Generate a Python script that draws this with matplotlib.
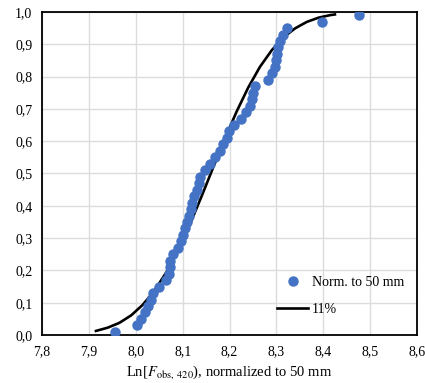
import matplotlib
matplotlib.use("Agg")
import matplotlib.pyplot as plt
from matplotlib.ticker import FuncFormatter, MultipleLocator

plt.rcParams["font.family"] = ["Liberation Serif", "DejaVu Serif"]
plt.rcParams["mathtext.fontset"] = "stix"

# empirical probabilities (i - 0.5) / 50
prob = [0.01, 0.03, 0.05, 0.07, 0.09, 0.11, 0.13, 0.15, 0.17, 0.19,
        0.21, 0.23, 0.25, 0.27, 0.29, 0.31, 0.33, 0.35, 0.37, 0.39,
        0.41, 0.43, 0.45, 0.47, 0.49, 0.51, 0.53, 0.55, 0.57, 0.59,
        0.61, 0.63, 0.65, 0.67, 0.69, 0.71, 0.73, 0.75, 0.77, 0.79,
        0.81, 0.83, 0.85, 0.87, 0.89, 0.91, 0.93, 0.95, 0.97, 0.99]
ln_f = [7.956, 8.003, 8.012, 8.019, 8.026, 8.033, 8.037, 8.050, 8.064, 8.070,
        8.072, 8.073, 8.080, 8.091, 8.096, 8.100, 8.106, 8.110, 8.113, 8.117,
        8.121, 8.125, 8.131, 8.135, 8.138, 8.148, 8.159, 8.170, 8.180, 8.186,
        8.195, 8.200, 8.210, 8.225, 8.236, 8.244, 8.247, 8.250, 8.254, 8.283,
        8.290, 8.297, 8.300, 8.301, 8.304, 8.308, 8.315, 8.322, 8.397, 8.476]

# fitted curve (11 %)
fit_x = [7.915, 7.94, 7.965, 7.99, 8.015, 8.04, 8.065, 8.09, 8.115, 8.14, 8.165,
         8.19, 8.215, 8.24, 8.265, 8.29, 8.315, 8.34, 8.365, 8.39, 8.415, 8.425]
fit_y = [0.013, 0.023, 0.038, 0.061, 0.094, 0.138, 0.194, 0.262, 0.341, 0.428, 0.518,
         0.607, 0.691, 0.766, 0.830, 0.881, 0.921, 0.949, 0.969, 0.982, 0.990, 0.992]

fig = plt.figure(figsize=(4.25, 3.83), dpi=100)
ax = fig.add_axes([0.099, 0.125, 0.882, 0.844])

ax.plot(ln_f, prob, "o", color="#4472C4", markersize=6.5, label="Norm. to 50 mm", zorder=3)
ax.plot(fit_x, fit_y, "-", color="black", lw=1.9, label="11%", zorder=2)

ax.set_xlim(7.8, 8.6)
ax.set_ylim(0, 1.0)
ax.xaxis.set_major_locator(MultipleLocator(0.1))
ax.yaxis.set_major_locator(MultipleLocator(0.1))
comma = FuncFormatter(lambda v, p: f"{v:.1f}".replace(".", ","))
ax.xaxis.set_major_formatter(comma)
ax.yaxis.set_major_formatter(comma)
ax.tick_params(length=0, labelsize=10, pad=7)
ax.grid(color="#dcdcdc", lw=1)
ax.set_axisbelow(True)
for s in ax.spines.values():
    s.set_linewidth(1.3)

ax.set_xlabel(r"Ln[$F_{\mathrm{obs,\ 420}}$), normalized to 50 mm", fontsize=10.5, labelpad=4)

ax.legend(loc="lower right", bbox_to_anchor=(1.0, 0.02), frameon=False, fontsize=10,
          handlelength=2.2, handletextpad=0.3, labelspacing=1.0)

fig.savefig("out.png", dpi=100)
